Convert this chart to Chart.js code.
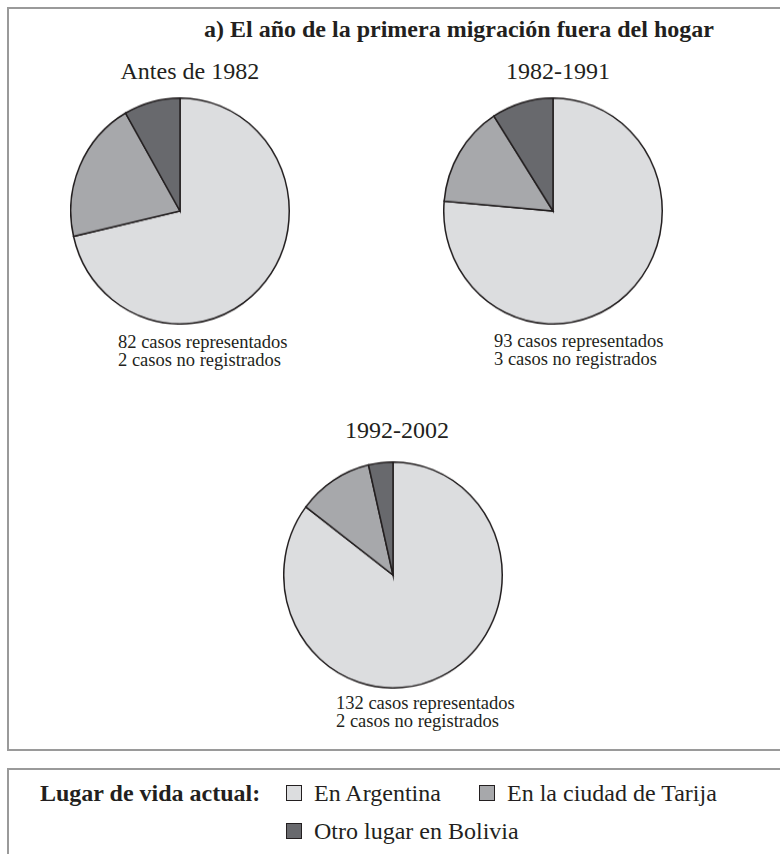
<!DOCTYPE html>
<html>
<head>
<meta charset="utf-8">
<script src="https://cdn.jsdelivr.net/npm/chart.js@4/dist/chart.umd.min.js"></script>
<style>
  html, body { margin: 0; padding: 0; background: #fff; }
  body { width: 780px; height: 854px; position: relative; overflow: hidden;
         font-family: "Liberation Serif", "Times New Roman", serif; color: #231f20; }
  .frame { position: absolute; left: 7px; width: 820px; border: 2.5px solid #9a9a9a; box-sizing: border-box; }
  .txt { position: absolute; line-height: 1; white-space: nowrap; }
  .pie { position: absolute; width: 220px; height: 220px; transform: scaleY(1.034); }
  .legend { position: absolute; left: 0; top: 0; font-size: 24px; line-height: 1; white-space: nowrap; }
  .legend b, .legend .it { position: absolute; }
  .legend .sw { position: absolute; width: 16px; height: 16px; border: 1.5px solid #231f20; box-sizing: border-box; }
</style>
</head>
<body>
<div class="frame" style="top:7px;height:744px;"></div>
<div class="frame" style="top:768px;height:120px;"></div>

<div class="txt" id="title" style="left:204px;top:17px;font-size:24px;font-weight:bold;"></div>

<div class="txt" id="p0" style="top:59px;font-size:24px;"></div>
<div class="txt" id="p1" style="top:59px;font-size:24px;"></div>
<div class="txt" id="p2" style="top:418px;font-size:24px;"></div>

<div class="pie" style="left:70px;top:101px;"><canvas id="pie0"></canvas></div>
<div class="pie" style="left:443px;top:101px;"><canvas id="pie1"></canvas></div>
<div class="pie" style="left:283px;top:465px;"><canvas id="pie2"></canvas></div>

<div class="txt" id="n0" style="left:118px;top:332.5px;font-size:18.5px;line-height:18.5px;"></div>
<div class="txt" id="n1" style="left:494px;top:331.5px;font-size:18.5px;line-height:18.5px;"></div>
<div class="txt" id="n2" style="left:336px;top:693.5px;font-size:18.5px;line-height:18.5px;"></div>

<div class="legend" id="legend"></div>

<script>
  // categories (slices, clockwise from 12 o'clock)
  const categories = ["En Argentina", "En la ciudad de Tarija", "Otro lugar en Bolivia"];
  const periods = ["Antes de 1982", "1982-1991", "1992-2002"];
  const casesShown = [82, 93, 132];
  const casesMissing = [2, 3, 2];

  // share of cases (%)
  const antes1982 = [71.4, 20.3, 8.3];
  const p1982to1991 = [76.4, 14.5, 9.1];
  const p1992to2002 = [85.3, 11.1, 3.6];

  const colors = ["#dcdddf", "#a7a8ab", "#68696d"];
  const edge = "#231f20";

  const $ = (id) => document.getElementById(id);

  $("title").textContent = "a) El año de la primera migración fuera del hogar";

  const series = [antes1982, p1982to1991, p1992to2002];
  const centers = [190, 558, 397];
  periods.forEach((p, i) => {
    const el = $("p" + i);
    el.textContent = p;
    el.style.left = (centers[i] - el.offsetWidth / 2) + "px";
    $("n" + i).innerHTML = casesShown[i] + " casos representados<br>" + casesMissing[i] + " casos no registrados";
  });

  series.forEach((vals, i) => {
    new Chart($("pie" + i), {
      type: "pie",
      data: {
        labels: categories,
        datasets: [{
          data: vals,
          backgroundColor: colors,
          borderColor: edge,
          borderWidth: 1.5,
          borderJoinStyle: "miter",
        }],
      },
      options: {
        responsive: true,
        maintainAspectRatio: false,
        animation: false,
        events: [],
        layout: { padding: 0 },
        plugins: { legend: { display: false }, tooltip: { enabled: false } },
      },
    });
  });

  // legend: two rows, swatch + label
  const rows = [781, 819];
  const items = [
    { x: 286, row: 0 },
    { x: 479, row: 0 },
    { x: 286, row: 1 },
  ];
  let html = `<b style="left:40px;top:${rows[0]}px;">Lugar de vida actual:</b>`;
  items.forEach((it, i) => {
    const y = rows[it.row];
    html += `<span class="sw" style="left:${it.x}px;top:${y + 4}px;background:${colors[i]}"></span>`;
    html += `<span class="it" style="left:${it.x + 28}px;top:${y}px;">${categories[i]}</span>`;
  });
  $("legend").innerHTML = html;
</script>
</body>
</html>
